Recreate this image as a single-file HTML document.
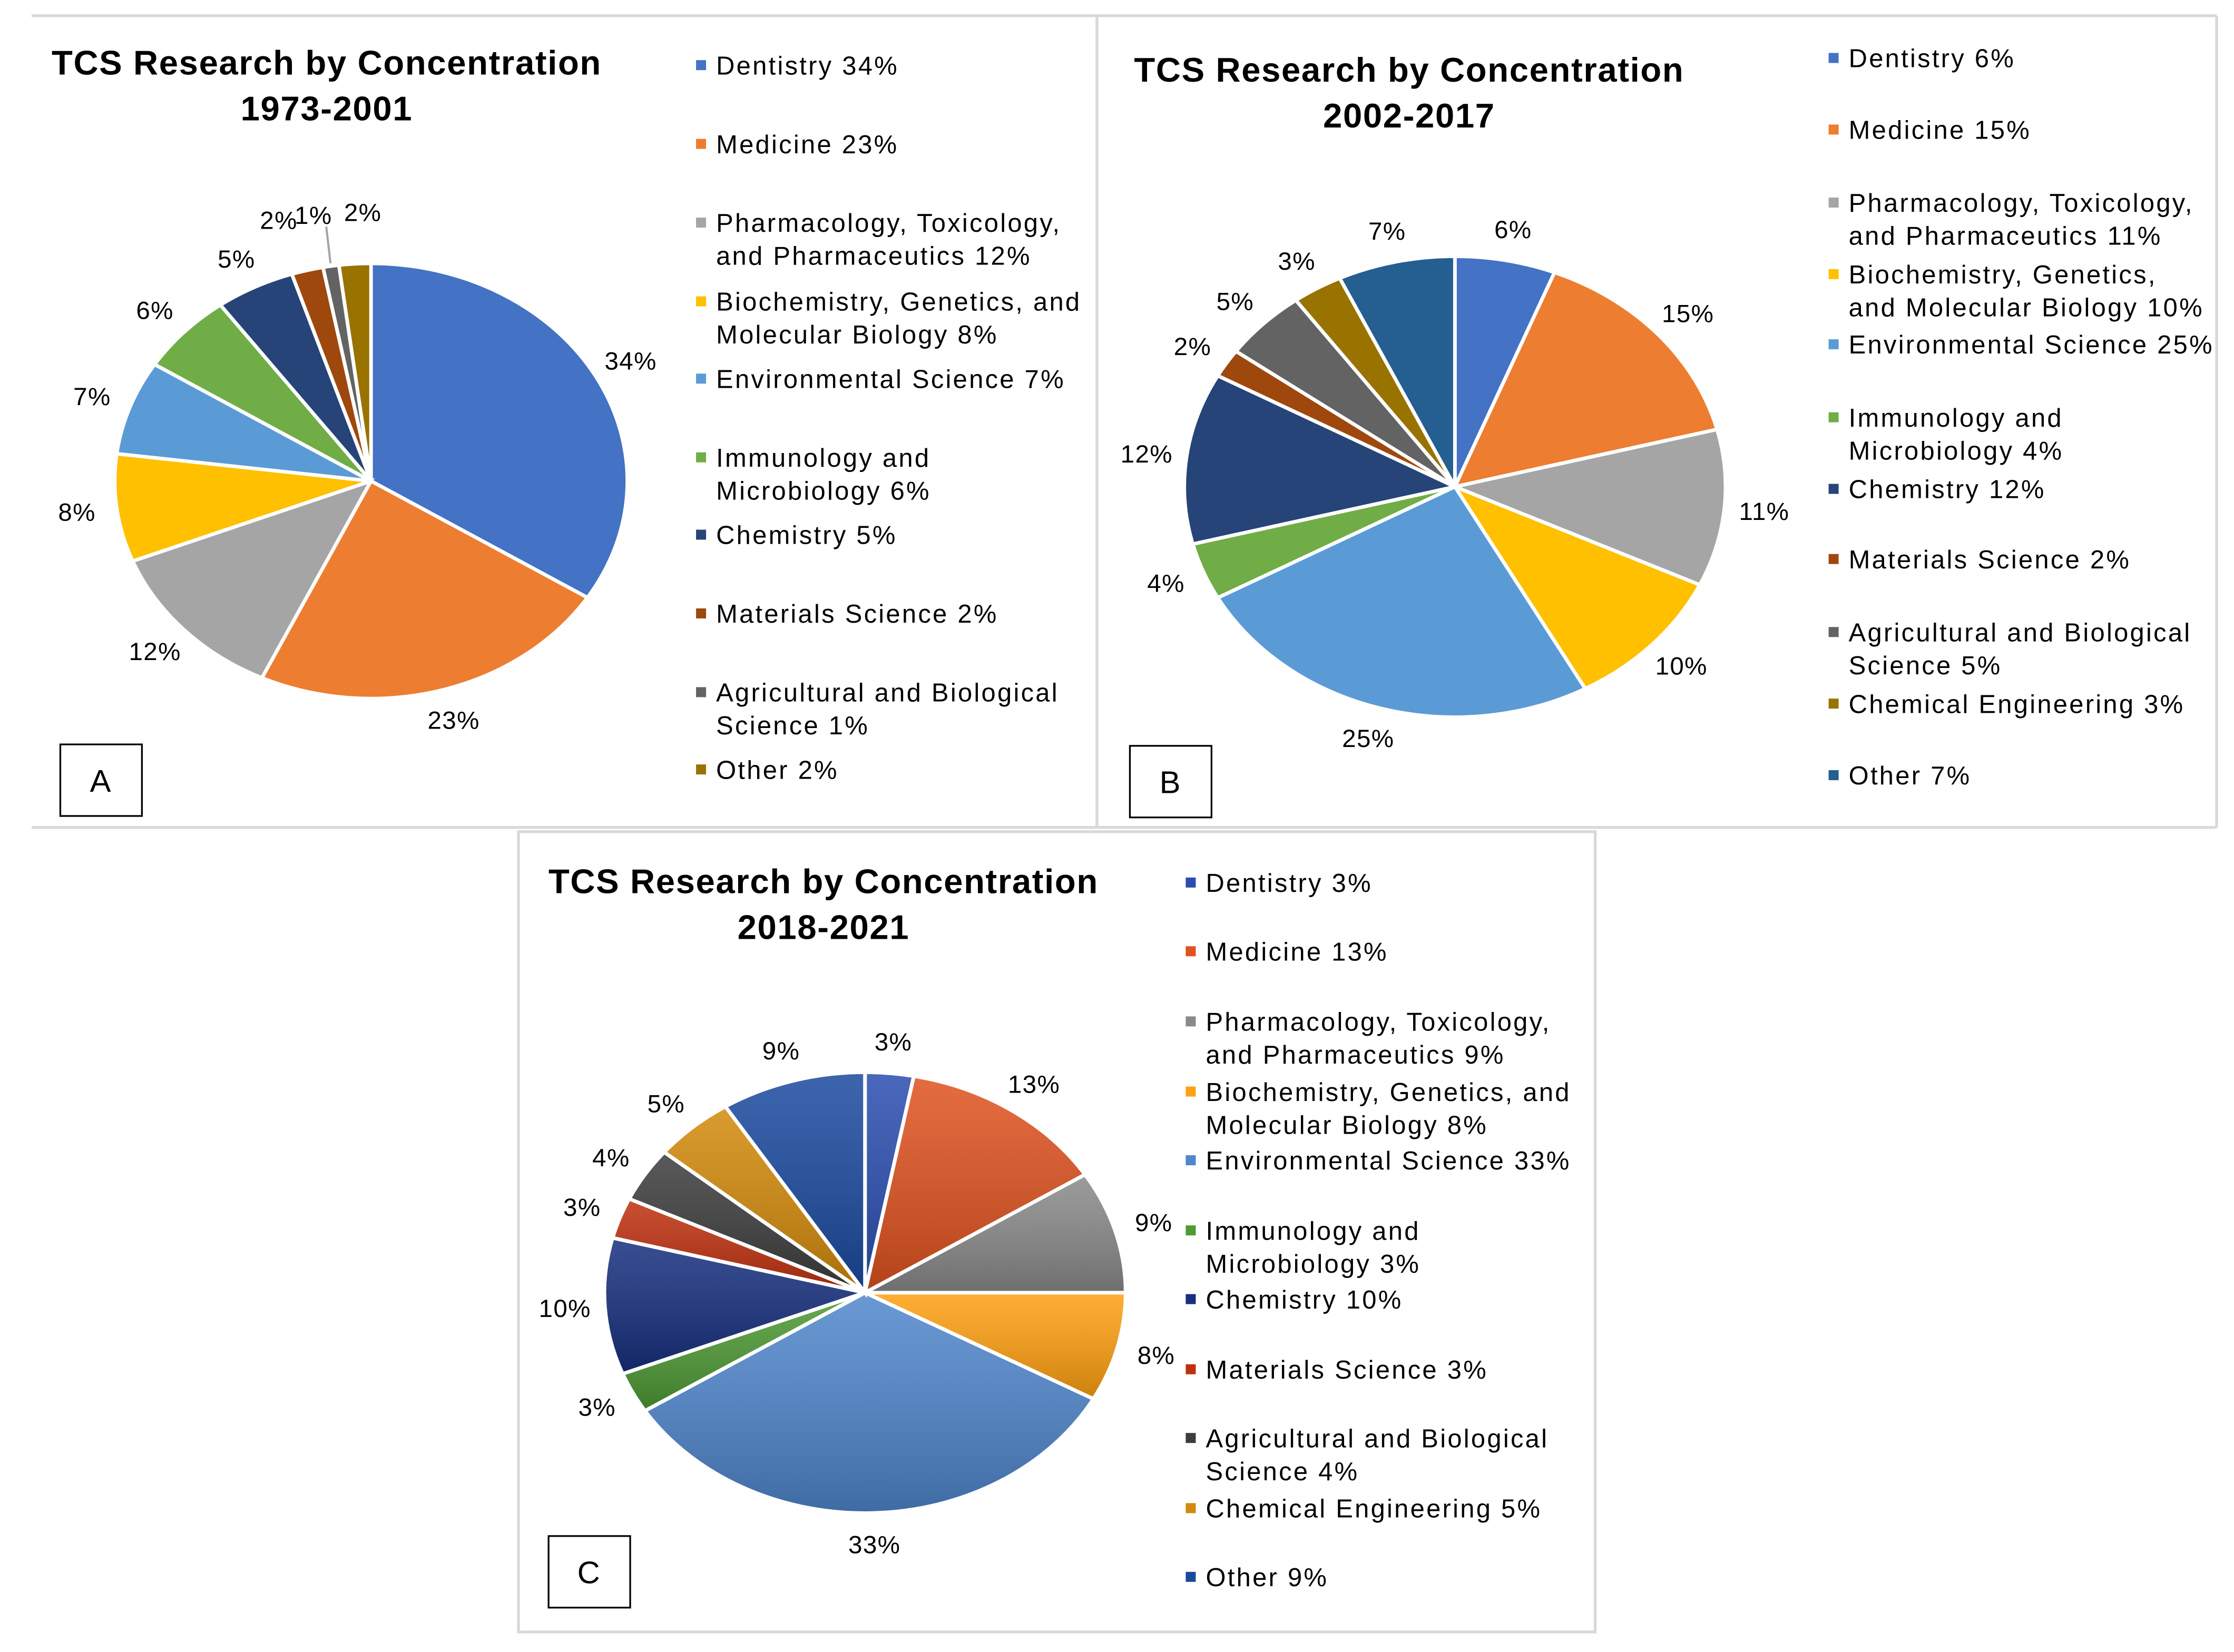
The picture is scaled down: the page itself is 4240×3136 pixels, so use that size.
<!DOCTYPE html>
<html><head><meta charset="utf-8"><style>
html,body{margin:0;padding:0;background:#fff;}
svg{display:block;font-family:"Liberation Sans",sans-serif;}
</style></head><body>
<svg id="chart" width="4240" height="3136" viewBox="0 0 1560 1154" xmlns="http://www.w3.org/2000/svg">
<defs>
<linearGradient id="gshade" x1="0" y1="0" x2="0" y2="1"><stop offset="0" stop-color="#fff" stop-opacity="0.15"/><stop offset="1" stop-color="#000" stop-opacity="0.2"/></linearGradient>
</defs>
<rect width="1560" height="1154" fill="#fff"/>
<g fill="none" stroke="#d9d9d9" stroke-width="2">
<line x1="22" y1="11" x2="1548" y2="11"/>
<line x1="22" y1="578" x2="1548" y2="578"/>
<line x1="766" y1="11" x2="766" y2="578"/>
<line x1="1548" y1="11" x2="1548" y2="578"/>
<rect x="362" y="581" width="752" height="559"/>
</g>
<g id="layer"></g>
</svg>
<script>
const catsA=["Dentistry","Medicine","Pharmacology, Toxicology,|and Pharmaceutics","Biochemistry, Genetics, and|Molecular Biology","Environmental Science","Immunology and|Microbiology","Chemistry","Materials Science","Agricultural and Biological|Science","Other"];
const valsA=[34,23,12,8,7,6,5,2,1,2];
const catsB=["Dentistry","Medicine","Pharmacology, Toxicology,|and Pharmaceutics","Biochemistry, Genetics,|and Molecular Biology","Environmental Science","Immunology and|Microbiology","Chemistry","Materials Science","Agricultural and Biological|Science","Chemical Engineering","Other"];
const valsB=[6,15,11,10,25,4,12,2,5,3,7];
const catsC=["Dentistry","Medicine","Pharmacology, Toxicology,|and Pharmaceutics","Biochemistry, Genetics, and|Molecular Biology","Environmental Science","Immunology and|Microbiology","Chemistry","Materials Science","Agricultural and Biological|Science","Chemical Engineering","Other"];
const valsC=[3,13,9,8,33,3,10,3,4,5,9];
const colAB=["#4472C4","#ED7D31","#A5A5A5","#FFC000","#5B9BD5","#70AD47","#264478","#9E480E","#636363","#997300","#255E91"];
const colA=["#4472C4","#ED7D31","#A5A5A5","#FFC000","#5B9BD5","#70AD47","#264478","#9E480E","#636363","#997300"];
const colC=["#2A4DB0","#E0521F","#8A8A8A","#FFA010","#4F86CC","#4E9A34","#162F7E","#C0300E","#3C3C3C","#D38A0A","#1A4AA0"];
const NS="http://www.w3.org/2000/svg";
const layer=document.getElementById('layer');
function mk(tag,attrs,parent){const e=document.createElementNS(NS,tag);for(const k in attrs)e.setAttribute(k,attrs[k]);(parent||layer).appendChild(e);return e;}
function drawPanel(p){
  const g=mk('g',{});
  
  
  p.title.forEach((t,i)=>{const e=mk('text',{x:p.tx,y:p.ty+i*32,'text-anchor':'middle','font-size':24,'font-weight':'bold','letter-spacing':0.6,fill:'#000'},g);e.textContent=t;
    
    });
  const total=p.vals.reduce((a,b)=>a+b,0);
  let a0=-Math.PI/2;
  p.vals.forEach((v,i)=>{
    const a1=a0+v/total*2*Math.PI;
    const x0=p.cx+p.rx*Math.cos(a0),y0=p.cy+p.ry*Math.sin(a0);
    const x1=p.cx+p.rx*Math.cos(a1),y1=p.cy+p.ry*Math.sin(a1);
    const large=(a1-a0)>Math.PI?1:0;
    const d=`M${p.cx},${p.cy}L${x0},${y0}A${p.rx},${p.ry} 0 ${large} 1 ${x1},${y1}Z`;
    const s=mk('path',{d:d,fill:p.cols[i],stroke:'#fff','stroke-width':2.5},g);
    
    
    if(p.grad){const o=mk('path',{d:d,fill:'url(#gshade)',stroke:'#fff','stroke-width':2.5},g);
      
      }
    const am=(a0+a1)/2;
    const small=p.spread&&v<=2;
    const ext=small?40:28, exty=small?36:22;
    const lx=p.cx+(p.rx+ext)*Math.cos(am),ly=p.cy+(p.ry+exty)*Math.sin(am)+6;
    if(small&&v===1){const ln=mk('line',{x1:p.cx+(p.rx+2)*Math.cos(am),y1:p.cy+(p.ry+2)*Math.sin(am),x2:lx+3,y2:ly+2,stroke:'#a5a5a5','stroke-width':1.5},g);
      
      }
    const lb=mk('text',{x:small&&v===1?lx-6:(small&&i===p.vals.length-1?lx+8:(small?lx-10:lx)),y:ly,'text-anchor':'middle','font-size':17.5,'letter-spacing':0.5,fill:'#000'},g);
    lb.textContent=v+'%';
    
    
    a0=a1;
  });
  p.cats.forEach((c,i)=>{
    const y=p.ly[i];
    const m=mk('rect',{x:p.lx,y:y-10,width:7,height:7,fill:p.cols[i]},g);
    
    
    const lines=c.split('|');
    lines.forEach((ln,j)=>{
      const t=mk('text',{x:p.lx+14,y:y+j*23,'font-size':18,'letter-spacing':1.2,fill:'#000'},g);
      t.textContent=ln+(j===lines.length-1?' '+p.vals[i]+'%':'');
      
      
    });
  });
  const bx=mk('rect',{x:p.bx,y:p.by,width:57,height:50,fill:'#fff',stroke:'#000','stroke-width':1.2},g);
  
  
  const bt=mk('text',{x:p.bx+28,y:p.by+33,'text-anchor':'middle','font-size':22,fill:'#000'},g);
  bt.textContent=p.id;
  
  
}
drawPanel({id:'A',title:['TCS Research by Concentration','1973-2001'],tx:228,ty:52,cats:catsA,vals:valsA,cols:colA,spread:true,cx:259,cy:336,rx:179,ry:152,lx:486,ly:[52,107,162,217,271,326,380,435,490,544],bx:42,by:520});
drawPanel({id:'B',title:['TCS Research by Concentration','2002-2017'],tx:984,ty:57,cats:catsB,vals:valsB,cols:colAB,cx:1016,cy:340,rx:189,ry:161,lx:1277,ly:[47,97,148,198,247,298,348,397,448,498,548],bx:789,by:521});
drawPanel({id:'C',title:['TCS Research by Concentration','2018-2021'],tx:575,ty:624,cats:catsC,vals:valsC,cols:colC,grad:true,cx:604,cy:903,rx:182,ry:154,lx:828,ly:[623,671,720,769,817,866,914,963,1011,1060,1108],bx:383,by:1073});
</script>
</body></html>
